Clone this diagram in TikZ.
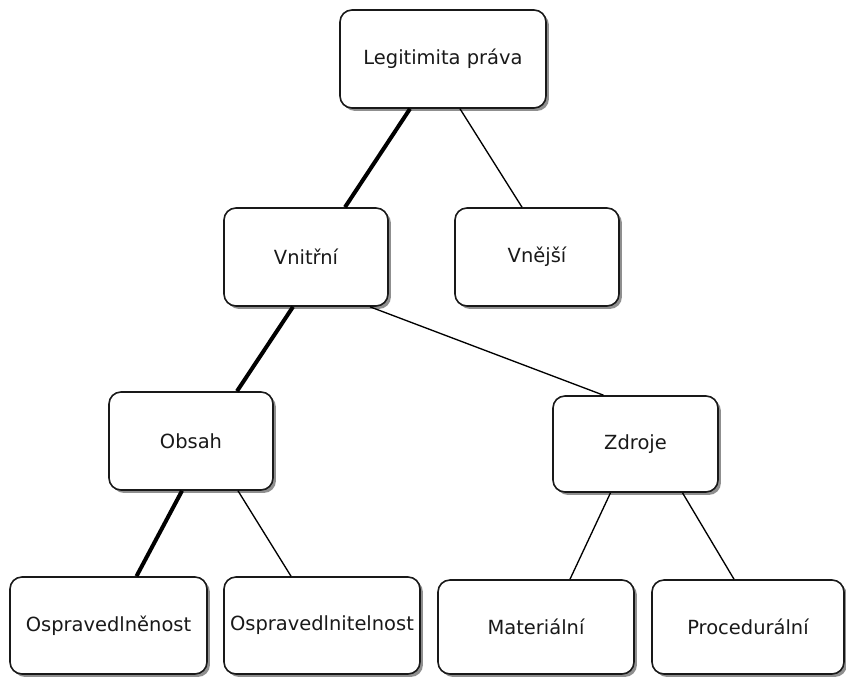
\documentclass[tikz,border=0pt]{standalone}
\usepackage{fontspec}
\setmainfont{DejaVu Sans}
\usetikzlibrary{calc,shadows}
\begin{document}
\begin{tikzpicture}[x=0.75pt,y=-0.75pt,
  box/.style={draw=black!90, line width=1.2pt, rounded corners=9pt, fill=white,
    inner sep=0pt, font=\fontsize{14.6pt}{16pt}\selectfont, text=black!90,
    drop shadow={shadow xshift=2.2pt, shadow yshift=-2.2pt, fill=black!55, opacity=0.8}},
  thin edge/.style={draw=black, line width=1pt},
  thick edge/.style={draw=black, line width=3pt}]
\useasboundingbox (0,0) rectangle (846,676);
\node[box, minimum width=206*0.75pt, minimum height=98*0.75pt] (top) at (443,59) {Legitimita práva};
\node[box, minimum width=164*0.75pt, minimum height=98*0.75pt] (vn) at (306,257) {Vnitřní};
\node[box, minimum width=164*0.75pt, minimum height=98*0.75pt] (ve) at (537,257) {Vnější};
\node[box, minimum width=164*0.75pt, minimum height=98*0.75pt] (ob) at (191,441) {Obsah};
\node[box, minimum width=165*0.75pt, minimum height=96*0.75pt] (zd) at (635.5,444) {Zdroje};
\node[box, minimum width=197*0.75pt, minimum height=97*0.75pt] (o1) at (108.5,625.5) {Ospravedlněnost};
\node[box, minimum width=196*0.75pt, minimum height=97*0.75pt] (o2) at (322,625.5) {Ospravedlnitelnost};
\node[box, minimum width=196*0.75pt, minimum height=94*0.75pt] (ma) at (536,627) {Materiální};
\node[box, minimum width=192*0.75pt, minimum height=94*0.75pt] (pr) at (748,627) {Procedurální};
\draw[thick edge] ($(top.south)+(-33,0)$) -- ($(vn.north)+(39,0)$);
\draw[thin edge] ($(top.south)+(17,0)$) -- ($(ve.north)+(-15,0)$);
\draw[thick edge] ($(vn.south)+(-13,0)$) -- ($(ob.north)+(46,0)$);
\draw[thin edge] ($(vn.south)+(64,0)$) -- ($(zd.north)+(-32,0)$);
\draw[thick edge] ($(ob.south)+(-9,0)$) -- ($(o1.north)+(28,0)$);
\draw[thin edge] ($(ob.south)+(47,0)$) -- ($(o2.north)+(-31,0)$);
\draw[thin edge] ($(zd.south)+(-25,0)$) -- ($(ma.north)+(34,0)$);
\draw[thin edge] ($(zd.south)+(47,0)$) -- ($(pr.north)+(-14,0)$);
\end{tikzpicture}
\end{document}
